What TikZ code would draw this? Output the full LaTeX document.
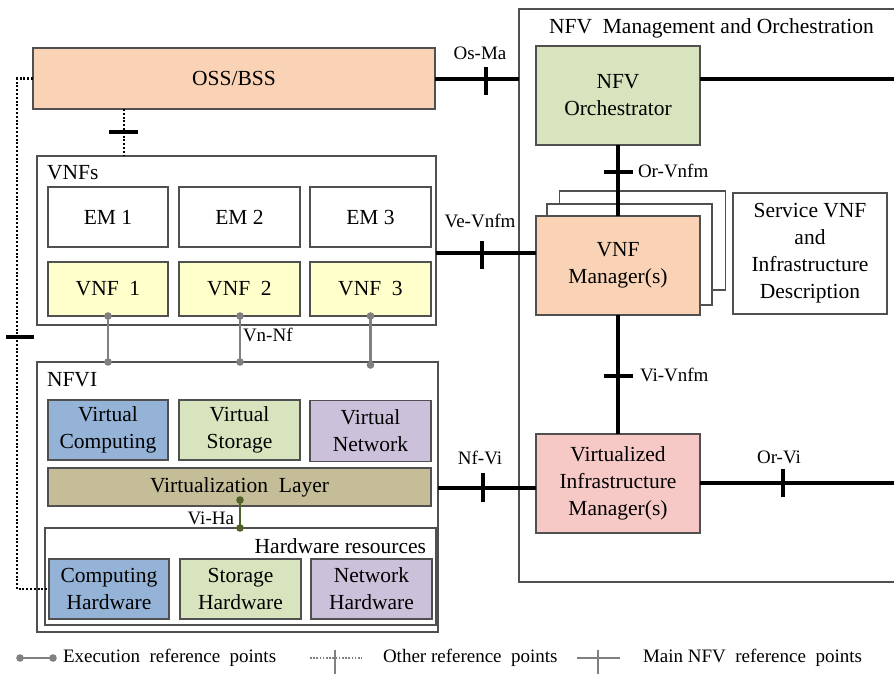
\documentclass[tikz,border=0pt]{standalone}
\usepackage{fontspec}
\setmainfont{Liberation Serif}
\usetikzlibrary{calc}
\definecolor{peach}{HTML}{FAD3B6}
\definecolor{vnfyellow}{HTML}{FFFFCC}
\definecolor{vblue}{HTML}{95B3D7}
\definecolor{vgreen}{HTML}{D7E4BD}
\definecolor{vpurple}{HTML}{CCC1DA}
\definecolor{vlayer}{HTML}{C4BD97}
\definecolor{vimpink}{HTML}{F6C9C6}
\definecolor{boxgray}{HTML}{505050}
\definecolor{exegray}{HTML}{808080}
\definecolor{vihagreen}{HTML}{4F6228}
\begin{document}
\begin{tikzpicture}[x=1pt,y=-1pt,
  box/.style={draw=boxgray, line width=1.3pt, inner sep=0pt, outer sep=0pt, align=center,
    font=\fontsize{21.5}{27}\selectfont},
  txt/.style={inner sep=0pt, outer sep=0pt, font=\fontsize{21.5}{27}\selectfont},
  lbl/.style={inner sep=0pt, outer sep=0pt, font=\fontsize{19}{23}\selectfont},
  mainln/.style={line width=3.1pt, black},
  dotln/.style={line width=2.8pt, black, dash pattern=on 2pt off 1.8pt},
  exeln/.style={line width=2.4pt, exegray},
  legln/.style={line width=2.6pt, exegray},
]
\useasboundingbox (0,0) rectangle (894,675);
\clip (0,0) rectangle (894,675);
\fill[white] (0,0) rectangle (894,675);

% ---------------- left side ----------------
\node[box, fill=peach, minimum width=402pt, minimum height=61pt] (oss) at (234,78.5) {OSS/BSS};

\node[box, minimum width=399pt, minimum height=169pt] (vnfs) at (236.5,240.5) {};
\node[txt, anchor=west] (vnfslbl) at (47,173) {VNFs};
\node[box, minimum width=120pt, minimum height=60pt] (em1) at (108,217) {EM 1};
\node[box, minimum width=121pt, minimum height=60pt] (em2) at (239.5,217) {EM 2};
\node[box, minimum width=121pt, minimum height=60pt] (em3) at (370.5,217) {EM 3};
\node[box, fill=vnfyellow, minimum width=120pt, minimum height=54pt] (vnf1) at (108,289) {VNF\ \ 1};
\node[box, fill=vnfyellow, minimum width=121pt, minimum height=54pt] (vnf2) at (239.5,289) {VNF\ \ 2};
\node[box, fill=vnfyellow, minimum width=121pt, minimum height=54pt] (vnf3) at (370.5,289) {VNF\ \ 3};

\node[box, minimum width=401pt, minimum height=270pt] (nfvi) at (237.5,497) {};
\node[txt, anchor=west] (nfvilbl) at (47,380) {NFVI};
\node[box, fill=vblue, minimum width=120pt, minimum height=60pt] (vc) at (108,430) {Virtual\\Computing};
\node[box, fill=vgreen, minimum width=121pt, minimum height=60pt] (vs) at (239.5,430) {Virtual\\Storage};
\node[box, fill=vpurple, minimum width=121pt, minimum height=61pt] (vn) at (370.5,431) {Virtual\\Network};
\node[box, fill=vlayer, minimum width=383pt, minimum height=38pt] (vl) at (239.5,487) {Virtualization\ \ Layer};
\node[box, minimum width=391pt, minimum height=97pt] (hw) at (240.5,576.5) {};
\node[txt, anchor=east] (hwlbl) at (426,546) {Hardware resources};
\node[box, fill=vblue, minimum width=120pt, minimum height=60pt] (ch) at (109,589) {Computing\\Hardware};
\node[box, fill=vgreen, minimum width=121pt, minimum height=60pt] (sh) at (240.5,589) {Storage\\Hardware};
\node[box, fill=vpurple, minimum width=121pt, minimum height=60pt] (nh) at (371.5,589) {Network\\Hardware};

% ---------------- MANO ----------------
\node[box, minimum width=386pt, minimum height=573pt] (mano) at (712,295.5) {};
\node[txt] (manolbl) at (711.5,28) {NFV\ \ Management and Orchestration};
\node[box, fill=vgreen, minimum width=164pt, minimum height=99pt] (nfvo) at (618,95.5) {NFV\\Orchestrator};
\node[box, fill=white, minimum width=166pt, minimum height=99pt] (vnfm3) at (642.5,240.5) {};
\node[box, fill=white, minimum width=165pt, minimum height=101pt] (vnfm2) at (629.5,254.5) {};
\node[box, fill=peach, minimum width=164pt, minimum height=99pt] (vnfm) at (618,265.5) {VNF\\Manager(s)};
\node[box, minimum width=154pt, minimum height=121pt] (svc) at (810,253.5) {Service VNF\\and\\Infrastructure\\Description};
\node[box, fill=vimpink, minimum width=164pt, minimum height=99pt] (vim) at (618,483.5) {Virtualized\\Infrastructure\\Manager(s)};

% ---------------- main reference points ----------------
% Os-Ma
\coordinate (osmaY) at (0,79);
\draw[mainln] (oss.east |- osmaY) -- (mano.west |- osmaY);
\coordinate (tOsMa) at (486,81);
\draw[mainln] ($(tOsMa)+(0,-14)$) -- ($(tOsMa)+(0,14)$);
\node[lbl] (osmalbl) at (480,53) {Os-Ma};
% Orchestrator to right edge
\coordinate (orR) at (905,79);
\draw[mainln] (nfvo.east |- orR) -- (orR);
% Or-Vnfm
\draw[mainln] (nfvo.south) -- (vnfm.north);
\coordinate (tOrVnfm) at (618.5,172);
\draw[mainln] ($(tOrVnfm)+(-14.5,0)$) -- ($(tOrVnfm)+(14.5,0)$);
\node[lbl, anchor=west] (orvnfmlbl) at (638,171) {Or-Vnfm};
% Ve-Vnfm
\coordinate (vevnfmY) at (0,253);
\draw[mainln] (vnfs.east |- vevnfmY) -- (vnfm.west |- vevnfmY);
\coordinate (tVeVnfm) at (482,255);
\draw[mainln] ($(tVeVnfm)+(0,-14)$) -- ($(tVeVnfm)+(0,14)$);
\node[lbl] (vevnfmlbl) at (480,221) {Ve-Vnfm};
% Vi-Vnfm
\draw[mainln] (vnfm.south) -- (vim.north);
\coordinate (tViVnfm) at (618,376);
\draw[mainln] ($(tViVnfm)+(-14.5,0)$) -- ($(tViVnfm)+(14.5,0)$);
\node[lbl, anchor=west] (vivnfmlbl) at (640,375) {Vi-Vnfm};
% Nf-Vi
\coordinate (nfviY) at (0,488);
\draw[mainln] (nfvi.east |- nfviY) -- (vim.west |- nfviY);
\coordinate (tNfVi) at (483,487.5);
\draw[mainln] ($(tNfVi)+(0,-14.5)$) -- ($(tNfVi)+(0,14.5)$);
\node[lbl] (nfvilbl2) at (480,458) {Nf-Vi};
% Or-Vi
\coordinate (orviR) at (905,483);
\draw[mainln] (vim.east |- orviR) -- (orviR);
\coordinate (tOrVi) at (783,483);
\draw[mainln] ($(tOrVi)+(0,-14)$) -- ($(tOrVi)+(0,14)$);
\node[lbl] (orvilbl) at (779,457) {Or-Vi};

% ---------------- other reference points (dotted) ----------------
\draw[dotln] (oss.south -| 124,0) -- (vnfs.north -| 124,0);
\coordinate (tOssVnf) at (123.5,132);
\draw[mainln] ($(tOssVnf)+(-14.5,0)$) -- ($(tOssVnf)+(14.5,0)$);
\draw[dotln] (oss.west) -- ++(-16,0) |- (ch.west);
\coordinate (tLeft) at (20,337);
\draw[mainln] ($(tLeft)+(-14,0)$) -- ($(tLeft)+(14,0)$);

% ---------------- execution reference points ----------------
\coordinate (e1a) at (vnf1.south);
\coordinate (e1b) at (vnf1.south |- nfvi.north);
\coordinate (e2a) at (240,316);
\coordinate (e2b) at (e2a |- nfvi.north);
\coordinate (e3a) at (vnf3.south);
\coordinate (e3b) at ($(vnf3.south |- nfvi.north)+(0,3)$);
\foreach \a/\b in {e1a/e1b, e2a/e2b, e3a/e3b}{
  \draw[exeln] (\a) -- (\b);
  \fill[exegray] (\a) circle (3.8pt) (\b) circle (3.8pt);
}
\node[lbl, anchor=west] (vnnflbl) at (243,335) {Vn-Nf};
% Vi-Ha
\coordinate (vh1) at (240,500);
\coordinate (vh2) at (vh1 |- hw.north);
\draw[line width=2.6pt, vihagreen] (vh1) -- (vh2);
\fill[vihagreen] (vh1) circle (3.8pt) (vh2) circle (3.8pt);
\node[lbl, anchor=east] (vihalbl) at (234,518) {Vi-Ha};

% ---------------- legend ----------------
\coordinate (lg1a) at (20,658);
\coordinate (lg1b) at (53,658);
\draw[legln] (lg1a) -- (lg1b);
\fill[exegray] (lg1a) circle (3.8pt) (lg1b) circle (3.8pt);
\node[lbl, anchor=west] (lg1t) at (63,658) {Execution\ \ reference\ \ points};
\coordinate (lg2a) at (310,658);
\coordinate (lg2b) at (362,658);
\coordinate (lg2t) at (335,661.5);
\draw[line width=1.8pt, exegray, dash pattern=on 1.6pt off 1.6pt] (lg2a) -- (lg2b);
\draw[legln] ($(lg2t)+(0,-12)$) -- ($(lg2t)+(0,12)$);
\node[lbl, anchor=west] (lg2tx) at (383,658) {Other reference\ \ points};
\coordinate (lg3a) at (577,658);
\coordinate (lg3b) at (620,658);
\coordinate (lg3t) at (598,661.5);
\draw[legln] (lg3a) -- (lg3b);
\draw[legln] ($(lg3t)+(0,-12)$) -- ($(lg3t)+(0,12)$);
\node[lbl, anchor=west] (lg3tx) at (643,658) {Main NFV\ \ reference\ \ points};
\end{tikzpicture}
\end{document}
